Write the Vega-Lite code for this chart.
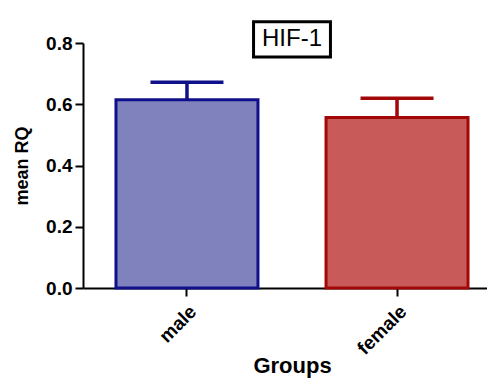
{
  "$schema": "https://vega.github.io/schema/vega-lite/v6.json",
  "width": 418,
  "height": 245,
  "padding": {"left": 13, "top": 20, "right": 0, "bottom": 5},
  "background": "white",
  "config": {
    "view": {"stroke": null},
    "font": "Liberation Sans",
    "axis": {"grid": false, "domainColor": "black", "domainWidth": 2, "tickColor": "black", "tickWidth": 2, "tickSize": 8, "labelColor": "black", "titleColor": "black", "labelFont": "Liberation Sans", "titleFont": "Liberation Sans"},
    "axisX": {"labelAngle": -45, "labelFontSize": 19, "labelFontWeight": "bold", "titleFontSize": 22, "titleFontWeight": "bold", "titleY": 84, "titleBaseline": "alphabetic", "labelPadding": 6},
    "axisY": {"labelFontSize": 19, "labelFontWeight": "bold", "titleFontSize": 18, "titleFontWeight": "bold", "titlePadding": 14, "labelPadding": 3}
  },
  "data": {"values": [
    {"group": "male", "mean": 0.615, "upper": 0.672},
    {"group": "female", "mean": 0.557, "upper": 0.62}
  ]},
  "resolve": {"scale": {"x": "independent"}},
  "layer": [
    {
      "mark": {"type": "bar", "strokeWidth": 3},
      "encoding": {
        "x": {"field": "group", "type": "nominal", "sort": ["male", "female"],
              "scale": {"paddingInner": 0.324, "paddingOuter": 0.157},
              "axis": {"title": "Groups"}},
        "y": {"field": "mean", "type": "quantitative",
              "scale": {"domain": [0, 0.8], "nice": false},
              "axis": {"title": "mean RQ", "values": [0, 0.2, 0.4, 0.6, 0.8], "format": ".1f"}},
        "fill": {"field": "group", "type": "nominal", "scale": {"domain": ["male", "female"], "range": ["#7f82bd", "#c95a5a"]}, "legend": null},
        "stroke": {"field": "group", "type": "nominal", "scale": {"domain": ["male", "female"], "range": ["#10108a", "#a30808"]}, "legend": null}
      }
    },
    {
      "mark": {"type": "rule", "strokeWidth": 3.5},
      "encoding": {
        "x": {"field": "group", "type": "nominal", "sort": ["male", "female"], "scale": {"paddingInner": 0.324, "paddingOuter": 0.157}, "axis": null},
        "y": {"field": "mean", "type": "quantitative"},
        "y2": {"field": "upper"},
        "stroke": {"field": "group", "type": "nominal", "legend": null}
      }
    },
    {
      "mark": {"type": "tick", "size": 73, "thickness": 3.5, "opacity": 1},
      "encoding": {
        "x": {"field": "group", "type": "nominal", "sort": ["male", "female"], "scale": {"paddingInner": 0.324, "paddingOuter": 0.157}, "axis": null},
        "y": {"field": "upper", "type": "quantitative"},
        "color": {"field": "group", "type": "nominal", "scale": {"domain": ["male", "female"], "range": ["#10108a", "#a30808"]}, "legend": null}
      }
    },
    {
      "data": {"values": [{"label": "HIF-1"}]},
      "mark": {"type": "rect", "fill": "white", "stroke": "black", "strokeWidth": 3},
      "encoding": {
        "x": {"datum": 0.408, "type": "quantitative", "scale": {"domain": [0, 1]}, "axis": null},
        "x2": {"datum": 0.592},
        "y": {"datum": 0.869, "type": "quantitative"},
        "y2": {"datum": 0.754}
      }
    },
    {
      "data": {"values": [{"label": "HIF-1"}]},
      "mark": {"type": "text", "fontSize": 24, "font": "Liberation Sans", "color": "black", "baseline": "middle", "align": "center"},
      "encoding": {
        "x": {"datum": 0.5, "type": "quantitative", "scale": {"domain": [0, 1]}, "axis": null},
        "y": {"datum": 0.812, "type": "quantitative"},
        "text": {"field": "label"}
      }
    }
  ]
}
